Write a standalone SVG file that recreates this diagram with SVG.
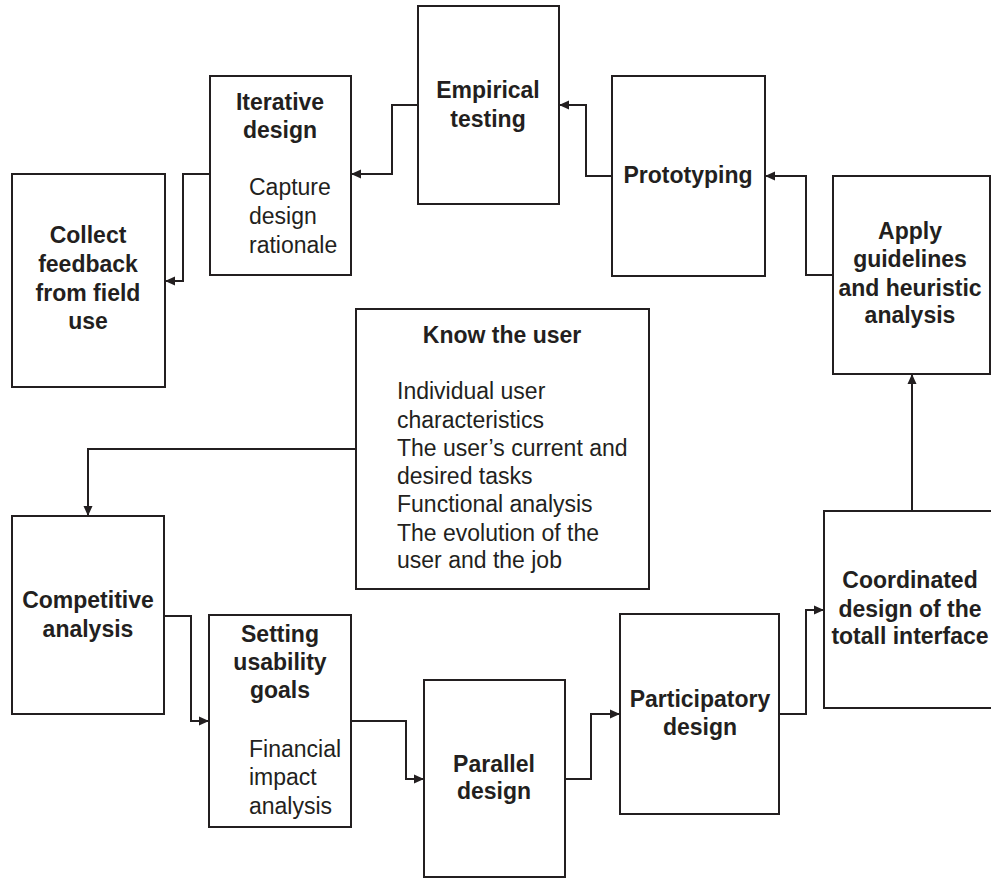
<svg xmlns="http://www.w3.org/2000/svg" width="991" height="878" viewBox="0 0 991 878">
<defs>
<style>
.box{fill:#fff;stroke:#231f20;stroke-width:2}
.con{fill:none;stroke:#231f20;stroke-width:2}
text{font-family:"Liberation Sans",Arial,Helvetica,sans-serif;font-size:23px;fill:#231f20}
.t{font-weight:bold;text-anchor:middle}
</style>
<marker id="arr" markerUnits="userSpaceOnUse" markerWidth="10" markerHeight="10" refX="10" refY="5" orient="auto">
<path d="M0,0.5 L10,5 L0,9.5 z" fill="#231f20"/>
</marker>
</defs>
<rect width="991" height="878" fill="#fff"/>
<g id="connectors">
<path class="con" d="M418,105 H392 V174 H351" marker-end="url(#arr)"/>
<path class="con" d="M210,174 H183 V281 H165" marker-end="url(#arr)"/>
<path class="con" d="M612,176 H586 V105 H559" marker-end="url(#arr)"/>
<path class="con" d="M833,275 H806 V176 H765" marker-end="url(#arr)"/>
<path class="con" d="M912,511 V374" marker-end="url(#arr)"/>
<path class="con" d="M356,449 H88 V516" marker-end="url(#arr)"/>
<path class="con" d="M164,616 H191 V721 H209" marker-end="url(#arr)"/>
<path class="con" d="M351,721 H406 V779 H424" marker-end="url(#arr)"/>
<path class="con" d="M565,779 H591 V714 H620" marker-end="url(#arr)"/>
<path class="con" d="M779,714 H806 V610 H824" marker-end="url(#arr)"/>
</g>
<g id="collect">
<rect class="box" x="12" y="174" width="153" height="213"/>
<text class="t" x="88" y="243">Collect</text>
<text class="t" x="88" y="272">feedback</text>
<text class="t" x="88" y="301">from field</text>
<text class="t" x="88" y="329">use</text>
</g>
<g id="iterative">
<rect class="box" x="210" y="76" width="141" height="199"/>
<text class="t" x="280" y="110">Iterative</text>
<text class="t" x="280" y="138">design</text>
<text x="249" y="195">Capture</text>
<text x="249" y="224">design</text>
<text x="249" y="253">rationale</text>
</g>
<g id="empirical">
<rect class="box" x="418" y="6" width="141" height="198"/>
<text class="t" x="488" y="98">Empirical</text>
<text class="t" x="488" y="127">testing</text>
</g>
<g id="prototyping">
<rect class="box" x="612" y="76" width="153" height="200"/>
<text class="t" x="688" y="183">Prototyping</text>
</g>
<g id="apply">
<rect class="box" x="833" y="176" width="157" height="198"/>
<text class="t" x="910" y="239">Apply</text>
<text class="t" x="910" y="267">guidelines</text>
<text class="t" x="910" y="296">and heuristic</text>
<text class="t" x="910" y="323">analysis</text>
</g>
<g id="know">
<rect class="box" x="356" y="309" width="293" height="280"/>
<text class="t" x="502" y="343">Know the user</text>
<text x="397" y="399">Individual user</text>
<text x="397" y="428">characteristics</text>
<text x="397" y="456">The user’s current and</text>
<text x="397" y="484">desired tasks</text>
<text x="397" y="512">Functional analysis</text>
<text x="397" y="541">The evolution of the</text>
<text x="397" y="568">user and the job</text>
</g>
<g id="competitive">
<rect class="box" x="12" y="516" width="152" height="198"/>
<text class="t" x="88" y="608">Competitive</text>
<text class="t" x="88" y="637">analysis</text>
</g>
<g id="setting">
<rect class="box" x="209" y="615" width="142" height="212"/>
<text class="t" x="280" y="642">Setting</text>
<text class="t" x="280" y="670">usability</text>
<text class="t" x="280" y="698">goals</text>
<text x="249" y="757">Financial</text>
<text x="249" y="785">impact</text>
<text x="249" y="814">analysis</text>
</g>
<g id="parallel">
<rect class="box" x="424" y="680" width="141" height="197"/>
<text class="t" x="494" y="772">Parallel</text>
<text class="t" x="494" y="799">design</text>
</g>
<g id="participatory">
<rect class="box" x="620" y="614" width="159" height="200"/>
<text class="t" x="700" y="707">Participatory</text>
<text class="t" x="700" y="735">design</text>
</g>
<g id="coordinated">
<rect class="box" x="824" y="511" width="180" height="197"/>
<text class="t" x="910" y="588">Coordinated</text>
<text class="t" x="910" y="617">design of the</text>
<text class="t" x="910" y="644">totall interface</text>
</g>
</svg>
